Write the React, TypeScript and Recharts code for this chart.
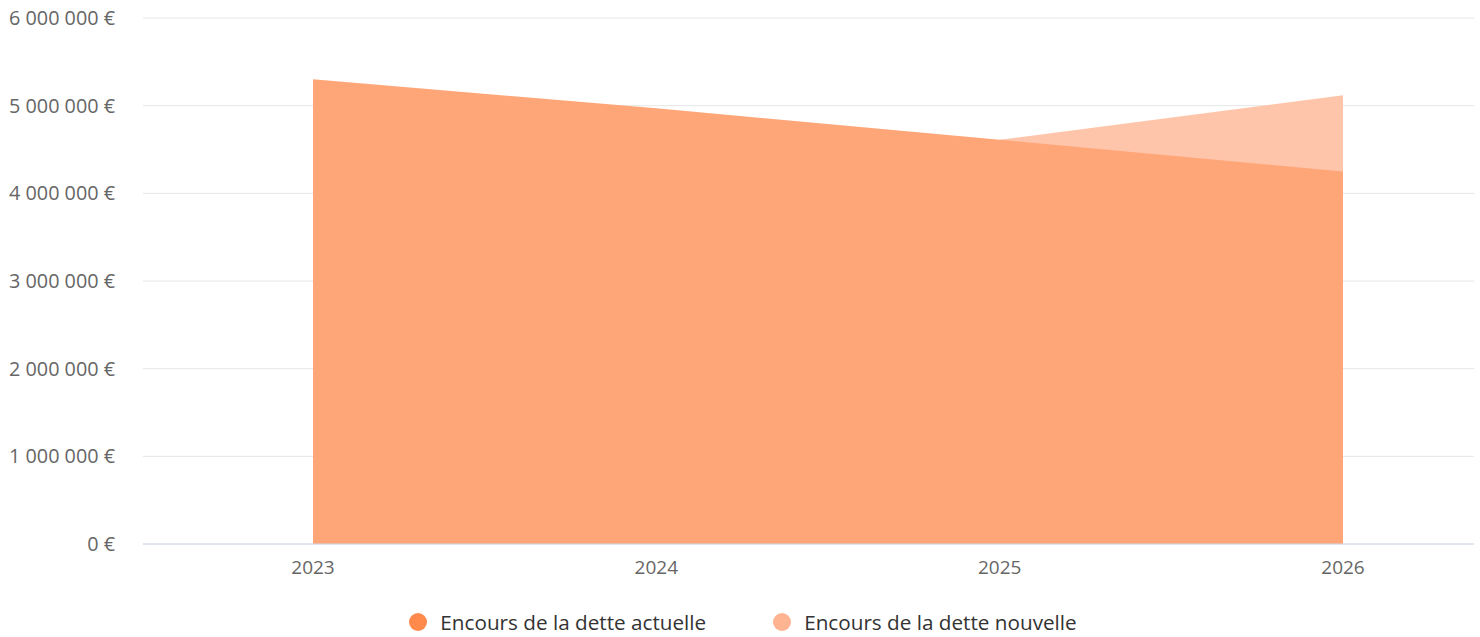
import React from "react";
import { AreaChart, Area, XAxis, YAxis, CartesianGrid } from "recharts";

const years = ["2023", "2024", "2025", "2026"];
const detteActuelle = [5300000, 4970000, 4610000, 4250000];
const detteNouvelle: (number | null)[] = [null, null, 4610000, 5120000];
const yTicks = [0, 1000000, 2000000, 3000000, 4000000, 5000000, 6000000];

const seriesNames = ["Encours de la dette actuelle", "Encours de la dette nouvelle"];
const legendColors = ["#FF8A4C", "#FFB491"];

const data = years.map((y, i) => ({
  year: y,
  actuelle: detteActuelle[i],
  nouvelle: detteNouvelle[i],
}));

const fmt = (v: number) =>
  String(Math.round(v)).replace(/\B(?=(\d{3})+(?!\d))/g, " ") + " €";

const FONT = "'Open Sans', sans-serif";

export default function App() {
  return (
    <div style={{ position: "absolute", left: 0, top: 0, width: 1480, height: 637, background: "#fff", fontFamily: FONT }}>
      <AreaChart
        width={1480}
        height={637}
        data={data}
        margin={{ top: 18, right: 6, left: 0, bottom: 63 }}
      >
        <CartesianGrid vertical={false} stroke="#e6e6e6" />
        <XAxis
          dataKey="year"
          padding={{ left: 170, right: 131 }}
          tickLine={false}
          axisLine={{ stroke: "#ccd6eb" }}
          tick={{ fill: "#666666", fontSize: 19, fontFamily: FONT }}
          tickMargin={11}
          interval={0}
        />
        <YAxis
          width={143}
          domain={[0, 6000000]}
          ticks={yTicks}
          tickFormatter={fmt}
          tickLine={false}
          axisLine={false}
          tickSize={0}
          tickMargin={28}
          tick={{ fill: "#666666", fontSize: 19.8, fontFamily: FONT }}
          interval={0}
        />
        <Area
          type="linear"
          dataKey="nouvelle"
          name={seriesNames[1]}
          stroke="none"
          fill="#FFC5AA"
          fillOpacity={1}
          isAnimationActive={false}
          connectNulls={false}
          dot={false}
          activeDot={false}
        />
        <Area
          type="linear"
          dataKey="actuelle"
          name={seriesNames[0]}
          stroke="none"
          fill="#FFA679"
          fillOpacity={1}
          isAnimationActive={false}
          dot={false}
          activeDot={false}
        />
      </AreaChart>
      <div
        style={{
          position: "absolute",
          top: 609,
          left: 0,
          width: 1480,
          display: "flex",
          justifyContent: "center",
          paddingLeft: 6,
          boxSizing: "border-box",
          fontFamily: FONT,
          fontSize: 20.7,
          color: "#333333",
        }}
      >
        {seriesNames.map((n, i) => (
          <div key={n} style={{ display: "flex", alignItems: "center", marginRight: i === 0 ? 67 : 0 }}>
            <span
              style={{
                width: 18,
                height: 18,
                borderRadius: 9,
                background: legendColors[i],
                display: "inline-block",
                marginRight: 13,
              }}
            />
            <span style={{ lineHeight: "26px" }}>{n}</span>
          </div>
        ))}
      </div>
    </div>
  );
}
